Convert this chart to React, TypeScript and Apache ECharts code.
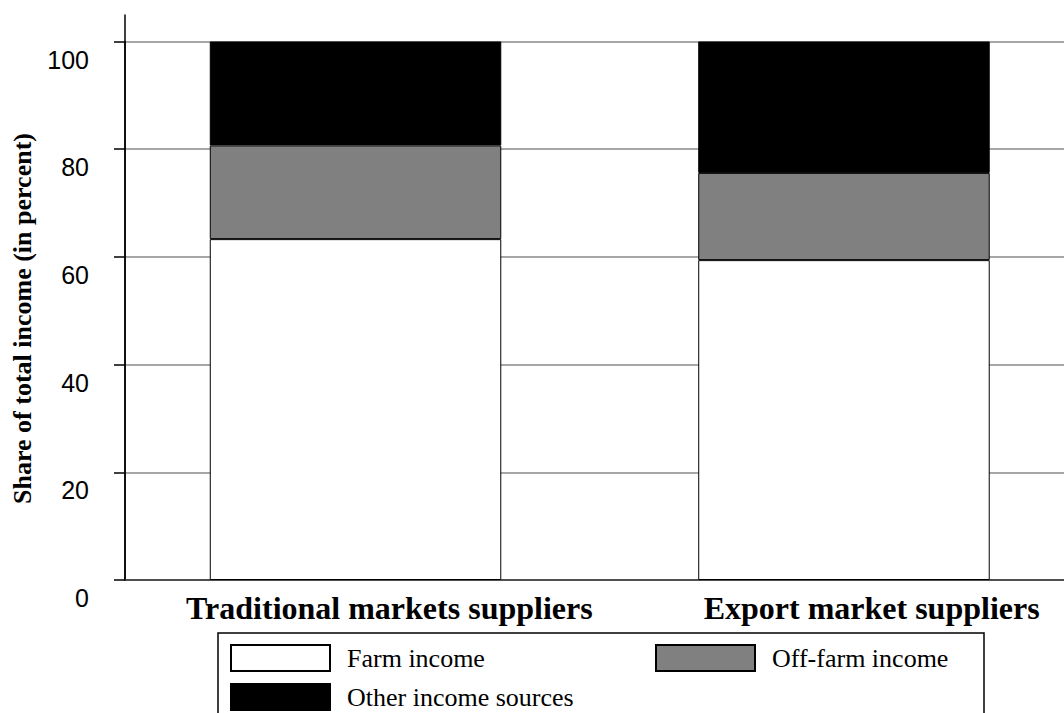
import React, { useEffect, useRef } from "react";
import * as echarts from "echarts";

const categories = ["Traditional markets suppliers", "Export market suppliers"];
const farmIncome = [63.3, 59.4];
const offFarmIncome = [17.4, 16.2];
const otherIncome = [19.3, 24.4];
const seriesNames = ["Farm income", "Off-farm income", "Other income sources"];
const seriesColors = ["#ffffff", "#808080", "#000000"];
const yMin = 0;
const yMax = 100;
const yInterval = 20;

export default function App() {
  const ref = useRef<HTMLDivElement>(null);
  useEffect(() => {
    if (!ref.current) return;
    const chart = echarts.init(ref.current, null, { renderer: "svg" });
    const values = [farmIncome, offFarmIncome, otherIncome];
    const series: any[] = [];
    categories.forEach((_, ci) => {
      seriesNames.forEach((name, si) => {
        series.push({
          type: "bar",
          name,
          stack: "c" + ci,
          xAxisIndex: 0,
          yAxisIndex: 0,
          barWidth: 291.5,
          barGap: "-95.3%",
          data: categories.map((__, j) => (j === ci ? values[si][j] : "-")),
          itemStyle: { color: seriesColors[si], borderColor: "#000", borderWidth: 1 },
          emphasis: { disabled: true },
        });
      });
    });
    chart.setOption({
      animation: false,
      grid: [
        { left: 125, width: 949.5, top: 41.5, bottom: 133, outerBoundsMode: "none", containLabel: false },
        { left: 125, width: 949.5, top: 15, bottom: 133, outerBoundsMode: "none", containLabel: false },
      ],
      xAxis: [
        {
          type: "category",
          gridIndex: 0,
          data: categories,
          axisLine: { show: true, lineStyle: { color: "#333", width: 1.5 } },
          axisTick: { show: false },
          axisLabel: {
            margin: 12,
            interval: 0,
            color: "#000",
            fontFamily: "Liberation Serif",
            fontWeight: "bold",
            fontSize: 32,
            lineHeight: 32,
            formatter: (v: string, i: number) => (i === 0 ? `{a|${v}}` : `{b|${v}}`),
            rich: {
              a: { fontFamily: "Liberation Serif", fontWeight: "bold", fontSize: 32, lineHeight: 32, color: "#000", padding: [0, 0, 0, 54] },
              b: { fontFamily: "Liberation Serif", fontWeight: "bold", fontSize: 32, lineHeight: 32, color: "#000", padding: [0, 0, 0, 69] },
            },
          },
        },
        { type: "category", gridIndex: 1, data: categories, show: false },
      ],
      yAxis: [
        {
          type: "value",
          gridIndex: 0,
          min: yMin,
          max: yMax,
          interval: yInterval,
          name: "Share of total income (in percent)",
          nameLocation: "middle",
          nameGap: 90,
          nameRotate: 90,
          nameTextStyle: {
            fontFamily: "Liberation Serif",
            fontWeight: "bold",
            fontSize: 26,
            color: "#000",
            padding: [0, 15.5, 0, 0],
          },
          axisLine: { show: true, lineStyle: { color: "#000", width: 1.5 } },
          axisTick: { show: true, length: 11, lineStyle: { color: "#000", width: 1.5 } },
          splitLine: { show: true, lineStyle: { color: "#888", width: 1.5 } },
          axisLabel: {
            margin: 36,
            color: "#000",
            fontFamily: "Liberation Sans",
            fontSize: 25,
            lineHeight: 36,
            formatter: (v: number) => "\n" + v,
          },
        },
        {
          type: "value",
          gridIndex: 1,
          min: 0,
          max: 1,
          axisLine: { show: true, lineStyle: { color: "#000", width: 1.5 } },
          axisTick: { show: false },
          axisLabel: { show: false },
          splitLine: { show: false },
        },
      ],
      legend: {
        left: 218,
        top: 633,
        width: 780,
        orient: "horizontal",
        icon: "rect",
        itemWidth: 99,
        itemHeight: 26,
        itemGap: 11,
        padding: [11, 12, 10, 12],
        borderColor: "#000",
        borderWidth: 1.5,
        backgroundColor: "#fff",
        selectedMode: false,
        textStyle: {
          fontFamily: "Liberation Serif",
          fontSize: 26,
          lineHeight: 26,
          color: "#000",
          padding: [0, 0, 0, 12],
        },
        data: [
          { name: seriesNames[0], textStyle: { width: 297 } },
          { name: seriesNames[1], textStyle: { width: 200 } },
          { name: seriesNames[2] },
        ],
      },
      series,
    });
    return () => chart.dispose();
  }, []);
  return (
    <div
      ref={ref}
      style={{ position: "fixed", left: 0, top: 0, width: 1064, height: 713, background: "#fff" }}
    />
  );
}
